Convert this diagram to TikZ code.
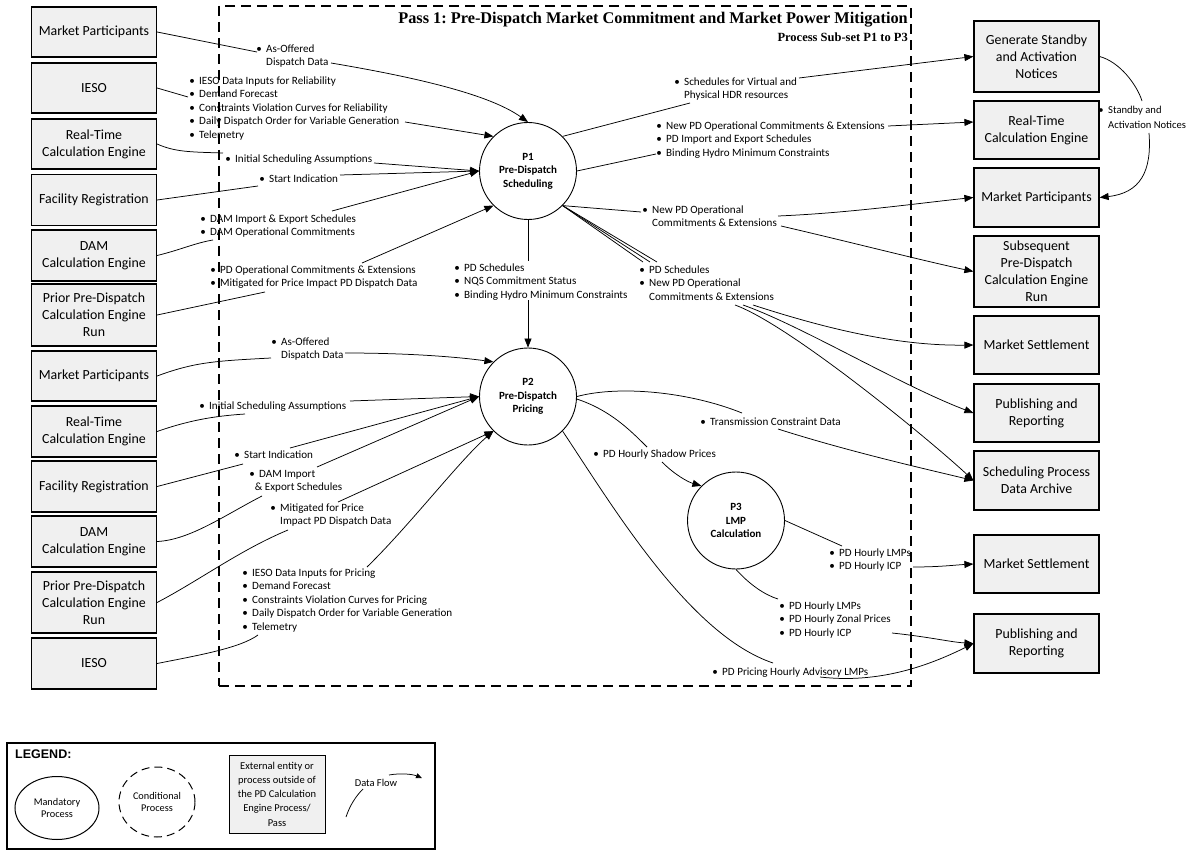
\documentclass[tikz,border=0pt]{standalone}
\usepackage{fontspec}
\setmainfont{Carlito}
\newfontfamily\titlefont{Liberation Serif}
\newfontfamily\legfont{Liberation Sans}
\usetikzlibrary{arrows.meta,shapes.geometric}
\newcommand{\bu}{\makebox[9.8pt][l]{•}}
\newcommand{\ind}{\hspace*{9.8pt}}
\frenchspacing
\begin{document}
\begin{tikzpicture}[x=1pt,y=-1pt,
  ext/.style={draw, line width=1.2pt, fill=black!6, minimum width=125pt, inner sep=0pt, align=center, font=\fontsize{13.9}{17}\selectfont},
  proc/.style={circle, draw, line width=0.9pt, minimum size=97pt, inner sep=0pt, align=center, font=\fontsize{11}{13.5}\selectfont\bfseries},
  lab/.style={anchor=north west, inner sep=0pt, align=left, font=\fontsize{11.1}{13.6}\selectfont},
  con/.style={line width=0.75pt},
  arr/.style={con, -{Triangle[length=9pt,width=7pt]}},
  frame/.style={draw, line width=1.2pt, dash pattern=on 10pt off 6pt, inner sep=0pt}
]
\path[use as bounding box] (0,0) rectangle (1201,850);

% frame and title
\node[frame, minimum width=692pt, minimum height=680pt] (frm) at (565,346) {};
\node[anchor=base east, inner sep=0pt, font=\titlefont\bfseries\fontsize{16.3}{18}\selectfont] (title) at (908,24) {Pass 1: Pre-Dispatch Market Commitment and Market Power Mitigation};
\node[anchor=base east, inner sep=0pt, font=\titlefont\bfseries\fontsize{12.5}{14}\selectfont] (subtitle) at (908,41.5) {Process Sub-set P1 to P3};

% left boxes
\node[ext, minimum height=50pt] (L1) at (94,32) {Market Participants};
\node[ext, minimum height=50pt] (L2) at (94,88) {IESO};
\node[ext, minimum height=50pt] (L3) at (94,144) {Real-Time\\Calculation Engine};
\node[ext, minimum height=51pt] (L4) at (94,200) {Facility Registration};
\node[ext, minimum height=51pt] (L5) at (94,255.5) {DAM\\Calculation Engine};
\node[ext, minimum height=62pt] (L6) at (94,315) {Prior Pre-Dispatch\\Calculation Engine\\Run};
\node[ext, minimum height=50pt] (L7) at (94,376) {Market Participants};
\node[ext, minimum height=51pt] (L8) at (94,431.5) {Real-Time\\Calculation Engine};
\node[ext, minimum height=51pt] (L9) at (94,486.5) {Facility Registration};
\node[ext, minimum height=51pt] (L10) at (94,541.5) {DAM\\Calculation Engine};
\node[ext, minimum height=61pt] (L11) at (94,602.5) {Prior Pre-Dispatch\\Calculation Engine\\Run};
\node[ext, minimum height=51pt] (L12) at (94,663.5) {IESO};

% right boxes
\node[ext, minimum height=71pt] (R1) at (1036.5,56.5) {Generate Standby\\and Activation\\Notices};
\node[ext, minimum height=58pt] (R2) at (1036.5,130) {Real-Time\\Calculation Engine};
\node[ext, minimum height=59pt] (R3) at (1036.5,197.5) {Market Participants};
\node[ext, minimum height=71pt] (R4) at (1036.5,271.5) {Subsequent\\Pre-Dispatch\\Calculation Engine\\Run};
\node[ext, minimum height=58pt] (R5) at (1036.5,345) {Market Settlement};
\node[ext, minimum height=58pt] (R6) at (1036.5,413) {Publishing and\\Reporting};
\node[ext, minimum height=59pt] (R7) at (1036.5,480.5) {Scheduling Process\\Data Archive};
\node[ext, minimum height=58pt] (R8) at (1036.5,564) {Market Settlement};
\node[ext, minimum height=59pt] (R9) at (1036.5,643.5) {Publishing and\\Reporting};

% processes
\node[proc] (P1) at (528,171) {P1\\Pre-Dispatch\\Scheduling};
\node[proc] (P2) at (528,396.5) {P2\\Pre-Dispatch\\Pricing};
\node[proc] (P3) at (736,520.5) {P3\\LMP\\Calculation};

% labels
\node[lab] (A1) at (256.2,42.3) {\strut\bu As-Offered\\\ind Dispatch Data};
\node[lab] (A2) at (189.2,74.3) {\strut\bu IESO Data Inputs for Reliability\\\bu Demand Forecast\\\bu Constraints Violation Curves for Reliability\\\bu Daily Dispatch Order for Variable Generation\\\bu Telemetry};
\node[lab] (A3) at (225.2,152.3) {\strut\bu Initial Scheduling Assumptions};
\node[lab] (A4) at (259.2,172.3) {\strut\bu Start Indication};
\node[lab] (A5) at (200.2,212.3) {\strut\bu DAM Import \& Export Schedules\\\bu DAM Operational Commitments};
\node[lab] (A6) at (210.2,263.3) {\strut\bu PD Operational Commitments \& Extensions\\\bu Mitigated for Price Impact PD Dispatch Data};
\node[lab] (B1) at (674.2,75.3) {\strut\bu Schedules for Virtual and\\\ind Physical HDR resources};
\node[lab] (B2) at (656.2,119.3) {\strut\bu New PD Operational Commitments \& Extensions\\\bu PD Import and Export Schedules\\\bu Binding Hydro Minimum Constraints};
\node[lab] (B3) at (642.2,203.3) {\strut\bu New PD Operational\\\ind Commitments \& Extensions};
\node[lab] (B4) at (639.2,263.3) {\strut\bu PD Schedules\\\bu New PD Operational\\\ind Commitments \& Extensions};
\node[lab] (B5) at (454.2,261.3) {\strut\bu PD Schedules\\\bu NQS Commitment Status\\\bu Binding Hydro Minimum Constraints};
\node[lab] (C1) at (271.2,335.3) {\strut\bu As-Offered\\\ind Dispatch Data};
\node[lab] (C2) at (199.2,399.3) {\strut\bu Initial Scheduling Assumptions};
\node[lab] (C3) at (234.2,448.3) {\strut\bu Start Indication};
\node[lab] (C4) at (249.2,467.3) {\strut\bu DAM Import\\\hspace*{5.5pt}\& Export Schedules};
\node[lab] (C5) at (270.2,501.3) {\strut\bu Mitigated for Price\\\ind Impact PD Dispatch Data};
\node[lab] (C6) at (242.2,566.3) {\strut\bu IESO Data Inputs for Pricing\\\bu Demand Forecast\\\bu Constraints Violation Curves for Pricing\\\bu Daily Dispatch Order for Variable Generation\\\bu Telemetry};
\node[lab] (D1) at (700.2,415.3) {\strut\bu Transmission Constraint Data};
\node[lab] (D2) at (593.2,447.3) {\strut\bu PD Hourly Shadow Prices};
\node[lab] (D3) at (712.2,665.3) {\strut\bu PD Pricing Hourly Advisory LMPs};
\node[lab] (D4) at (829.2,546.3) {\strut\bu PD Hourly LMPs\\\bu PD Hourly ICP};
\node[lab] (D5) at (779.2,599.3) {\strut\bu PD Hourly LMPs\\\bu PD Hourly Zonal Prices\\\bu PD Hourly ICP};
\node[lab, font=\fontsize{10.6}{14.5}\selectfont] (E1) at (1098.2,103.3) {\strut\bu Standby and\\\ind Activation Notices};

% connector end points beside the labels
\coordinate (a1i) at (257,52);  \coordinate (a1o) at (331,63);
\coordinate (a2i) at (188,97);  \coordinate (a2o) at (405,122);
\coordinate (a3i) at (223,153); \coordinate (a3o) at (374,163);
\coordinate (a4i) at (258,186); \coordinate (a4o) at (340,175);
\coordinate (a5i) at (213,240); \coordinate (a5o) at (332,211);
\coordinate (a6i) at (265,292); \coordinate (a6o) at (362,263);
\coordinate (b1i) at (690,103); \coordinate (b1o) at (799,78);
\coordinate (b2i) at (656,154); \coordinate (b2o) at (888,126);
\coordinate (b3i) at (641,212); \coordinate (b3o) at (778,216); \coordinate (b3p) at (781,226);
\coordinate (b4i1) at (643,262); \coordinate (b4i2) at (650,262); \coordinate (b4i3) at (657,262);
\coordinate (b4o1) at (735,305); \coordinate (b4o2) at (743,305); \coordinate (b4o3) at (753,305);
\coordinate (c1i) at (271,358); \coordinate (c1o) at (345,353);
\coordinate (c2i) at (245,414); \coordinate (c2o) at (350,401);
\coordinate (c3i) at (243,464); \coordinate (c3o) at (290,448);
\coordinate (c4i) at (262,496); \coordinate (c4o) at (317,467);
\coordinate (c5i) at (288,530); \coordinate (c5o) at (338,502);
\coordinate (c6i) at (258,635); \coordinate (c6o) at (367,567);
\coordinate (d1i) at (742,413); \coordinate (d1o) at (778,429);
\coordinate (d2i) at (647,447); \coordinate (d2o) at (662,462);
\coordinate (d3i) at (773,663); \coordinate (d3o) at (820,677);
\coordinate (d4i) at (842,546); \coordinate (d4o) at (913,567);
\coordinate (d5i) at (778,599); \coordinate (d5o) at (892,633);
\coordinate (e1i) at (1142,101); \coordinate (e1o) at (1149,133);
\coordinate (r2t) at ([yshift=8pt]R2.west);

% inputs to P1
\draw[con] (L1.east) -- (a1i);
\draw[arr] (a1o) .. controls (420,78) and (490,95) .. (P1.north);
\draw[con] (L2.east) -- (a2i);
\draw[arr] (a2o) -- (P1.135);
\draw[con] (L3.east) .. controls (175,152) and (190,152) .. (a3i);
\draw[arr] (a3o) -- (P1.west);
\draw[con] (L4.east) -- (a4i);
\draw[arr] (a4o) -- (P1.west);
\draw[con] (L5.east) .. controls (180,250) and (195,243) .. (a5i);
\draw[arr] (a5o) -- (P1.west);
\draw[con] (L6.east) -- (a6i);
\draw[arr] (a6o) -- (P1.-135);

% outputs of P1
\draw[con] (P1.45) -- (b1i);
\draw[arr] (b1o) -- (R1.west);
\draw[con] (P1.east) -- (b2i);
\draw[arr] (b2o) -- (r2t);
\draw[con] (P1.-45) -- (b3i);
\draw[arr] (b3o) .. controls (850,213) and (920,203) .. (R3.west);
\draw[arr] (b3p) .. controls (850,242) and (920,260) .. (R4.west);
\draw[con] (P1.-45) -- (b4i1);
\draw[con] (P1.-45) -- (b4i2);
\draw[con] (P1.-45) -- (b4i3);
\draw[arr] (b4o3) .. controls (830,330) and (900,346) .. (R5.west);
\draw[arr] (b4o2) .. controls (800,325) and (900,385) .. (R6.west);
\draw[arr] (b4o1) .. controls (790,325) and (930,440) .. (R7.west);
\draw[con] (P1.south) -- (P1.south |- B5.north);
\draw[arr] (P1.south |- B5.south) -- (P2.north);

% inputs to P2
\draw[con] (L7.east) .. controls (195,362) and (215,361) .. (c1i);
\draw[arr] (c1o) .. controls (400,353) and (450,356) .. (P2.135);
\draw[con] (L8.east) .. controls (190,420) and (215,416) .. (c2i);
\draw[arr] (c2o) -- (P2.west);
\draw[con] (L9.east) -- (c3i);
\draw[arr] (c3o) -- (P2.west);
\draw[con] (L10.east) .. controls (190,540) and (225,515) .. (c4i);
\draw[arr] (c4o) -- (P2.west);
\draw[con] (L11.east) .. controls (200,580) and (240,550) .. (c5i);
\draw[arr] (c5o) -- (P2.-135);
\draw[con] (L12.east) .. controls (200,655) and (240,648) .. (c6i);
\draw[arr] (c6o) .. controls (410,525) and (460,460) .. (P2.-135);

% outputs of P2 and P3
\draw[con] (P2.east) .. controls (620,385) and (690,392) .. (d1i);
\draw[arr] (d1o) .. controls (850,452) and (930,470) .. (R7.west);
\draw[con] (P2.-3) .. controls (610,410) and (630,430) .. (d2i);
\draw[arr] (d2o) .. controls (675,475) and (688,482) .. (P3.135);
\draw[con] (P2.-45) .. controls (615,510) and (690,635) .. (d3i);
\draw[arr] (d3o) .. controls (880,684) and (930,665) .. (R9.west);
\draw[con] (P3.east) -- (d4i);
\draw[arr] (d4o) .. controls (940,567) and (955,565) .. (R8.west);
\draw[con] (P3.south) .. controls (750,585) and (765,595) .. (d5i);
\draw[arr] (d5o) .. controls (930,637) and (950,642) .. (R9.west);

% standby notices
\draw[con] (R1.east) .. controls (1120,62) and (1137,85) .. (e1i);
\draw[arr] (e1o) .. controls (1152,172) and (1140,193) .. (R3.east);

% legend
\node[draw, line width=1.8pt, minimum width=428pt, minimum height=106pt, inner sep=0pt] (legend) at (221,796) {};
\node[anchor=west, inner sep=0pt, font=\legfont\bfseries\fontsize{12.5}{14}\selectfont] (legt) at (15,754) {LEGEND:};
\node[ellipse, draw, line width=1pt, minimum width=84pt, minimum height=63pt, inner sep=0pt, align=center, font=\fontsize{10.3}{12.5}\selectfont] (mand) at (57,808) {Mandatory\\Process};
\node[ellipse, draw, line width=1pt, dash pattern=on 8pt off 5pt, minimum width=76pt, minimum height=70pt, inner sep=0pt, align=center, font=\fontsize{10.3}{12.5}\selectfont] (cond) at (157,802) {Conditional\\Process};
\node[draw, line width=1pt, fill=black!6, minimum width=96pt, minimum height=78pt, inner sep=0pt, align=center, font=\fontsize{10.5}{14.2}\selectfont] (extl) at (277,794) {External entity or\\process outside of\\the PD Calculation\\Engine Process/\\Pass};
\node[inner sep=0pt, font=\fontsize{10.5}{12}\selectfont] (dflow) at (376,783) {Data Flow};
\coordinate (lg0) at (346,817);
\coordinate (lg0e) at (363,789);
\coordinate (lg1s) at (389,775);
\coordinate (lg1) at (422,778);
\draw[con] (lg0) .. controls (350,805) and (356,796) .. (lg0e);
\draw[con, -{Triangle[length=6pt,width=5pt]}] (lg1s) .. controls (400,773) and (412,774) .. (lg1);
\end{tikzpicture}
\end{document}
